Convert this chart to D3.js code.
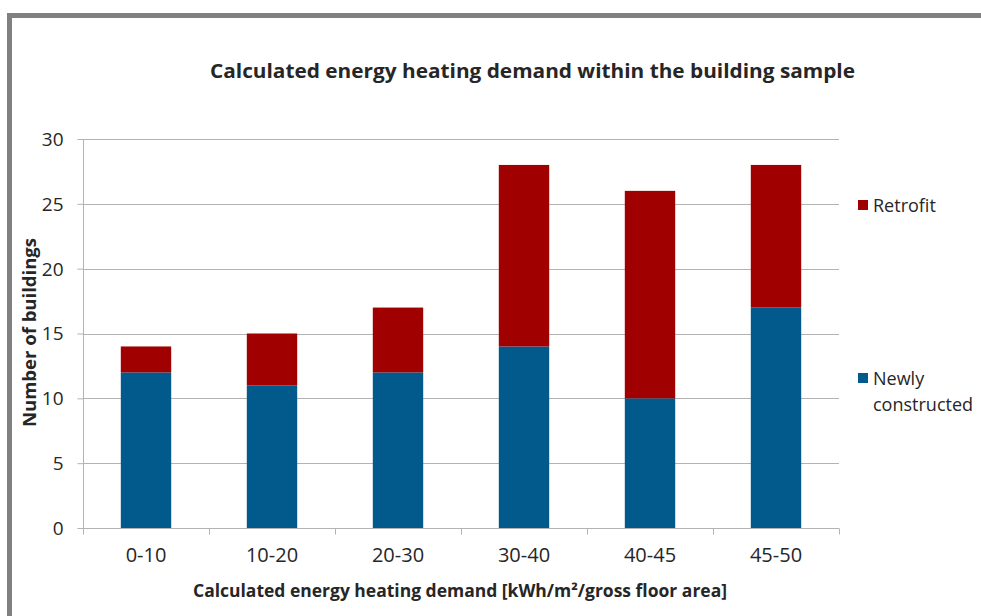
<!DOCTYPE html>
<html>
<head>
<meta charset="utf-8">
<script src="https://cdn.jsdelivr.net/npm/d3@7"></script>
<style>
  html, body { margin: 0; padding: 0; background: #fff; }
  svg { display: block; }
  text { font-family: "Open Sans", Lato, sans-serif; fill: #262626; }
</style>
</head>
<body>
<svg id="chart" width="981" height="616"></svg>
<script>
// Heating-demand classes and building counts per class
const categories = ["0-10", "10-20", "20-30", "30-40", "40-45", "45-50"];
const newlyConstructed = [12, 11, 12, 14, 10, 17];
const retrofit = [2, 4, 5, 14, 16, 11];
const yTicks = [0, 5, 10, 15, 20, 25, 30];
const seriesNames = ["Newly constructed", "Retrofit"];
const seriesColors = ["#02598B", "#A00000"];

const svg = d3.select("#chart");

// Outer frame
svg.append("path")
  .attr("d", "M9.5,616 L9.5,15.5 L981,15.5")
  .attr("fill", "none")
  .attr("stroke", "#808080")
  .attr("stroke-width", 5);

const plot = { left: 83, right: 839, top: 139, bottom: 528 };

const x = d3.scaleBand().domain(categories).range([plot.left, plot.right]).paddingInner(0.6).paddingOuter(0.3);
const xOuter = d3.scaleBand().domain(categories).range([plot.left, plot.right]);
const y = d3.scaleLinear().domain([0, 30]).range([plot.bottom, plot.top]);

// Horizontal gridlines
svg.append("g").selectAll("line").data(yTicks.filter(d => d > 0)).join("line")
  .attr("x1", plot.left).attr("x2", plot.right)
  .attr("y1", d => Math.round(y(d)) + 0.5).attr("y2", d => Math.round(y(d)) + 0.5)
  .attr("stroke", "#b3b3b3").attr("stroke-width", 1);

// Stacked bars
const rows = categories.map((c, i) => ({ cat: c, newly: newlyConstructed[i], retrofit: retrofit[i] }));
const stack = d3.stack().keys(["newly", "retrofit"])(rows);
svg.append("g").selectAll("g").data(stack).join("g")
  .attr("fill", (d, i) => seriesColors[i])
  .selectAll("rect").data(d => d).join("rect")
  .attr("x", d => x(d.data.cat))
  .attr("width", x.bandwidth())
  .attr("y", d => y(d[1]))
  .attr("height", d => y(d[0]) - y(d[1]));

// Y axis
const yAxis = svg.append("g")
  .attr("transform", `translate(${plot.left + 0.5},0)`)
  .call(d3.axisLeft(y).tickValues(yTicks).tickSize(6).tickPadding(14));
yAxis.select(".domain").attr("stroke", "#b3b3b3").attr("d", `M0,${plot.top} V${plot.bottom}`);
yAxis.selectAll(".tick line").attr("stroke", "#b3b3b3");
yAxis.selectAll(".tick text").style("font-size", "19px").attr("fill", "#262626").attr("dy", "0.34em");

// X axis with tick marks at category boundaries
const xAxisG = svg.append("g").attr("transform", `translate(0,${plot.bottom + 0.5})`);
xAxisG.append("line").attr("x1", plot.left).attr("x2", plot.right).attr("stroke", "#b3b3b3");
const bounds = categories.map(c => xOuter(c)).concat([plot.right]);
xAxisG.selectAll("line.tk").data(bounds).join("line").attr("class", "tk")
  .attr("x1", d => Math.round(d) + 0.5).attr("x2", d => Math.round(d) + 0.5)
  .attr("y1", 0).attr("y2", 6).attr("stroke", "#b3b3b3");
xAxisG.selectAll("text").data(categories).join("text")
  .attr("x", d => xOuter(d) + xOuter.bandwidth() / 2)
  .attr("y", 33)
  .attr("text-anchor", "middle")
  .style("font-size", "20px")
  .text(d => d);

// Titles
svg.append("text").attr("x", 210).attr("y", 78)
  .attr("textLength", 645).attr("lengthAdjust", "spacingAndGlyphs")
  .style("font-size", "20px").style("font-weight", "bold").attr("fill", "#000")
  .text("Calculated energy heating demand within the building sample");
svg.append("text").attr("x", 193).attr("y", 597)
  .attr("textLength", 534).attr("lengthAdjust", "spacingAndGlyphs")
  .style("font-size", "17px").style("font-weight", "bold").attr("fill", "#000")
  .text("Calculated energy heating demand [kWh/m²/gross floor area]");
svg.append("text").attr("transform", "translate(36,427) rotate(-90)")
  .attr("textLength", 189).attr("lengthAdjust", "spacingAndGlyphs")
  .style("font-size", "17px").style("font-weight", "bold").attr("fill", "#000")
  .text("Number of buildings");

// Legend
const legend = [
  { name: seriesNames[1], color: seriesColors[1], y: 205, lines: ["Retrofit"] },
  { name: seriesNames[0], color: seriesColors[0], y: 378, lines: ["Newly", "constructed"] }
];
const lg = svg.append("g").selectAll("g").data(legend).join("g");
lg.append("rect").attr("x", 858).attr("y", d => d.y - 5).attr("width", 10).attr("height", 10).attr("fill", d => d.color);
lg.append("text").attr("x", 873).attr("y", d => d.y + 7).style("font-size", "18px")
  .selectAll("tspan").data(d => d.lines).join("tspan")
  .attr("x", 873).attr("dy", (d, i) => i === 0 ? 0 : 26).text(d => d);
</script>
</body>
</html>
